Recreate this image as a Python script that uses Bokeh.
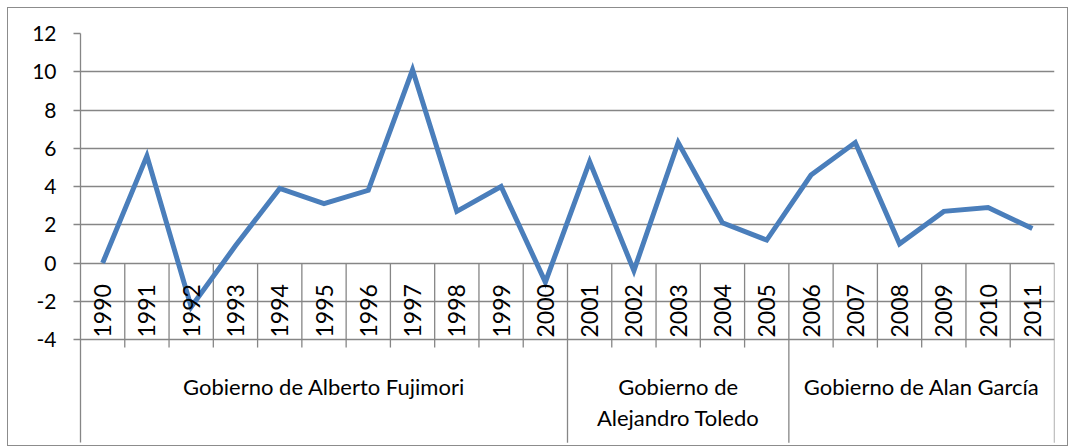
import math
from bokeh.plotting import figure
from bokeh.models import Range1d, FixedTicker
from bokeh.core.properties import value
from bokeh.embed import file_html
from bokeh.resources import INLINE

# ---- data ----
years = ["1990", "1991", "1992", "1993", "1994", "1995", "1996", "1997", "1998", "1999", "2000",
         "2001", "2002", "2003", "2004", "2005",
         "2006", "2007", "2008", "2009", "2010", "2011"]
values = [0.0, 5.6, -2.3, 0.9, 3.9, 3.1, 3.8, 10.1, 2.7, 4.0, -1.0,
          5.3, -0.4, 6.3, 2.1, 1.2,
          4.6, 6.3, 1.0, 2.7, 2.9, 1.8]
groups = ["Gobierno de Alberto Fujimori", "Gobierno de\nAlejandro Toledo", "Gobierno de Alan García"]
group_sizes = [11, 5, 6]
y_ticks = [-4, -2, 0, 2, 4, 6, 8, 10, 12]

FONT = "Lato"
GRID = "#868686"
LINE = "#4A7EBB"

n = len(years)
px_per_unit = 306 / 16.0
frame_h = 414
y_top = 12
y_bot = y_top - frame_h / px_per_unit

p = figure(width=1061, height=439, x_range=Range1d(0, n), y_range=Range1d(y_bot, y_top),
           output_backend="svg", toolbar_location=None, x_axis_location=None,
           min_border_left=72, min_border_right=15, min_border_top=25, min_border_bottom=0)
p.styles = {"border": "1px solid #8c8c8c", "margin-left": "7px", "margin-top": "7px"}
p.outline_line_color = None
p.background_fill_color = "white"
p.border_fill_color = "white"

# y axis
ticker = FixedTicker(ticks=y_ticks)
ax = p.yaxis[0]
ax.ticker = ticker
ax.bounds = (y_bot + 0.25, y_top)
ax.axis_line_color = GRID
ax.axis_line_width = 1.3
ax.major_tick_line_color = GRID
ax.major_tick_line_width = 1.3
ax.major_tick_out = 7
ax.major_tick_in = 0
ax.minor_tick_line_color = None
ax.major_label_standoff = 17
ax.major_label_text_font = FONT
ax.major_label_text_font_size = "21px"
ax.major_label_text_color = "#000000"
ax.major_label_overrides = {t: str(t) for t in y_ticks}

p.xgrid.visible = False
p.ygrid.ticker = ticker
p.ygrid.grid_line_color = GRID
p.ygrid.grid_line_width = 1.3

# category separators
bounds_all = list(range(1, n + 1))
group_edges = []
acc = 0
for s in group_sizes:
    acc += s
    group_edges.append(acc)
minor_x = [b for b in bounds_all if b not in group_edges]
p.segment(x0=minor_x, y0=[0] * len(minor_x), x1=minor_x, y1=[-4.42] * len(minor_x),
          line_color=GRID, line_width=1.3)
p.segment(x0=group_edges, y0=[0] * len(group_edges), x1=group_edges,
          y1=[y_bot + 0.25] * len(group_edges), line_color=GRID, line_width=1.3)

# data line
xs = [i + 0.5 for i in range(n)]
p.line(xs, values, line_color=LINE, line_width=5, line_join="miter")

# year labels
p.text(x=xs, y=[-2.5] * n, text=years, angle=math.pi / 2,
       text_align="center", text_baseline="middle",
       text_font=value(FONT), text_font_size="23px", text_color="#000000")

# group labels
gx = []
start = 0
for s in group_sizes:
    gx.append(start + s / 2.0)
    start += s
p.text(x=gx, y=[-5.77] * len(gx), text=groups, text_align="center", text_baseline="top",
       text_font=value(FONT), text_font_size="22px", text_color="#000000",
       text_line_height=1.15)

open("out.html", "w").write(file_html(p, INLINE))
